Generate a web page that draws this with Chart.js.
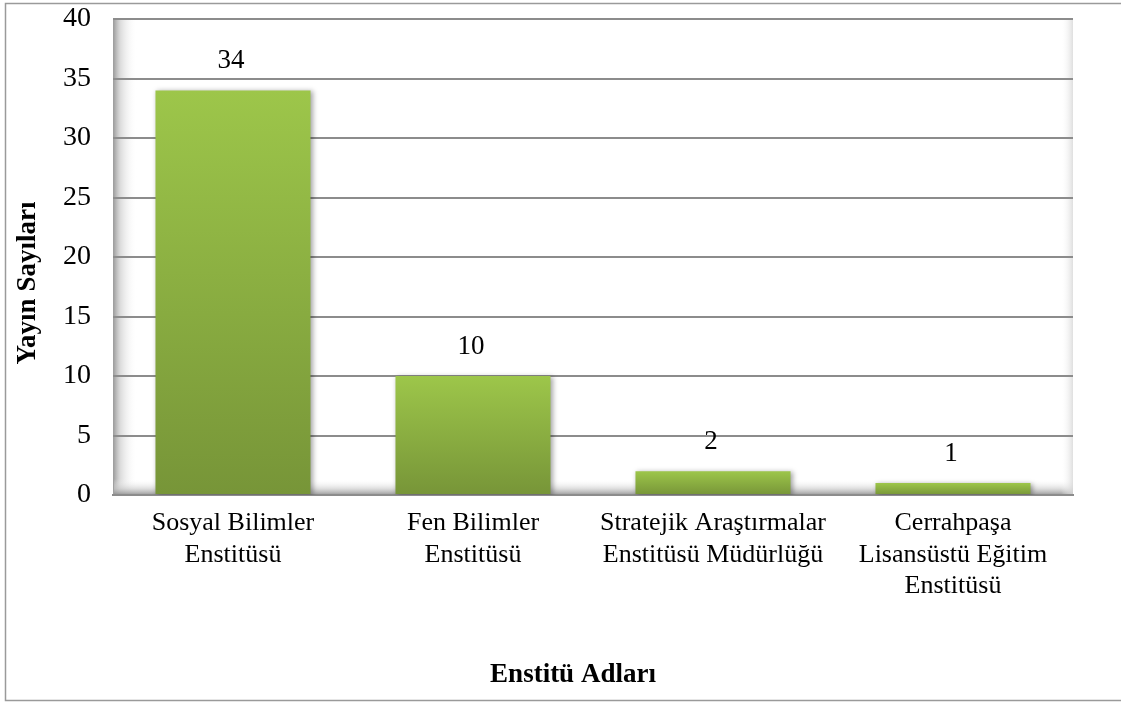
<!DOCTYPE html>
<html>
<head>
<meta charset="utf-8">
<script src="https://cdn.jsdelivr.net/npm/chart.js@4/dist/chart.umd.min.js"></script>
<style>
html,body{margin:0;padding:0;background:#fff;}
#wrap{width:1121px;height:702px;}
</style>
</head>
<body>
<div id="wrap"><canvas id="c" width="1121" height="702"></canvas></div>
<script>
const categories = [
  ["Sosyal Bilimler", "Enstitüsü"],
  ["Fen Bilimler", "Enstitüsü"],
  ["Stratejik Araştırmalar", "Enstitüsü Müdürlüğü"],
  ["Cerrahpaşa", "Lisansüstü Eğitim", "Enstitüsü"]
];
const values = [34, 10, 2, 1];
const yTicks = [0, 5, 10, 15, 20, 25, 30, 35, 40];
const xTitle = "Enstitü Adları";
const yTitle = "Yayın Sayıları";

const FONT = "'Liberation Serif', 'Times New Roman', serif";

function barGradient(c) {
  const ch = c.chart;
  const ys = ch.scales && ch.scales.y;
  if (!ch.chartArea || !ys || c.raw === undefined) return '#8db342';
  const top = ys.getPixelForValue(c.raw);
  const base = ys.getPixelForValue(0);
  const g = ch.ctx.createLinearGradient(0, top, 0, base);
  g.addColorStop(0, '#9dc64a');
  g.addColorStop(1, '#779538');
  return g;
}

const bgPlugin = {
  id: 'bg',
  beforeDraw(chart) {
    const ctx = chart.ctx;
    const a = chart.chartArea;
    ctx.save();
    ctx.fillStyle = '#fff';
    ctx.fillRect(0, 0, chart.width, chart.height);
    ctx.strokeStyle = '#9a9a9a';
    ctx.lineWidth = 1.5;
    ctx.beginPath();
    ctx.moveTo(1130, 3.5); ctx.lineTo(5.5, 3.5); ctx.lineTo(5.5, 700.5); ctx.lineTo(1130, 700.5);
    ctx.stroke();
    let g = ctx.createLinearGradient(a.left, 0, a.left + 24, 0);
    g.addColorStop(0, 'rgba(140,140,140,0.9)');
    g.addColorStop(0.3, 'rgba(195,195,195,0.6)');
    g.addColorStop(1, 'rgba(255,255,255,0)');
    ctx.fillStyle = g;
    ctx.fillRect(a.left, a.top, 24, a.bottom - a.top);
    g = ctx.createLinearGradient(0, a.bottom - 16, 0, a.bottom);
    g.addColorStop(0, 'rgba(255,255,255,0)');
    g.addColorStop(0.6, 'rgba(200,200,200,0.6)');
    g.addColorStop(1, 'rgba(140,140,140,0.9)');
    ctx.fillStyle = g;
    ctx.fillRect(a.left, a.bottom - 16, a.right - a.left, 16);
    g = ctx.createLinearGradient(a.right - 12, 0, a.right, 0);
    g.addColorStop(0, 'rgba(255,255,255,0)');
    g.addColorStop(1, 'rgba(215,215,215,0.8)');
    ctx.fillStyle = g;
    ctx.fillRect(a.right - 12, a.top, 12, a.bottom - a.top);
    ctx.strokeStyle = '#a0a0a0';
    ctx.lineWidth = 1;
    ctx.beginPath();
    ctx.moveTo(a.left + 0.5, a.top); ctx.lineTo(a.left + 0.5, a.bottom);
    ctx.stroke();
    ctx.restore();
  },
  beforeDatasetsDraw(chart) {
    const ctx = chart.ctx;
    ctx.save();
    ctx.shadowColor = 'rgba(0,0,0,0.35)';
    ctx.shadowBlur = 5;
    ctx.shadowOffsetX = 2;
    ctx.shadowOffsetY = 1;
  },
  afterDatasetsDraw(chart) {
    const ctx = chart.ctx;
    ctx.restore();
    const meta = chart.getDatasetMeta(0);
    ctx.save();
    ctx.fillStyle = '#000';
    ctx.font = '27px ' + FONT;
    ctx.textAlign = 'center';
    ctx.textBaseline = 'middle';
    meta.data.forEach((el, i) => {
      ctx.fillText(String(values[i]), el.x - 2, el.y - 29);
    });
    ctx.restore();
  },
  afterDraw(chart) {
    const ctx = chart.ctx;
    ctx.save();
    ctx.fillStyle = '#000';
    ctx.font = 'bold 27px ' + FONT;
    ctx.textAlign = 'center';
    ctx.textBaseline = 'middle';
    ctx.fillText(xTitle, 573, 675);
    ctx.translate(28, 283);
    ctx.rotate(-Math.PI / 2);
    ctx.fillText(yTitle, 0, 0);
    ctx.restore();
  }
};

new Chart(document.getElementById('c'), {
  type: 'bar',
  data: {
    labels: categories,
    datasets: [{
      data: values,
      backgroundColor: barGradient,
      borderWidth: 0,
      categoryPercentage: 1,
      barPercentage: 0.646
    }]
  },
  options: {
    responsive: false,
    animation: false,
    events: [],
    layout: { padding: { left: 0, top: 19, right: 48, bottom: 0 } },
    plugins: { legend: { display: false }, tooltip: { enabled: false } },
    scales: {
      x: {
        afterFit(s) { s.height = 702 - 495; s.paddingLeft = 0; s.paddingRight = 0; },
        grid: { display: false, drawTicks: false },
        border: { display: true, color: '#8c8c8c', width: 2 },
        ticks: {
          color: '#000',
          font: { family: FONT, size: 26, lineHeight: 1.2 },
          maxRotation: 0, minRotation: 0, autoSkip: false,
          padding: 13
        }
      },
      y: {
        min: 0, max: 40,
        afterFit(s) { s.width = 113; s.paddingTop = 0; s.paddingBottom = 0; },
        afterBuildTicks(s) { s.ticks = yTicks.map(v => ({ value: v })); },
        grid: { color: '#8c8c8c', lineWidth: 2, drawTicks: false },
        border: { display: false },
        ticks: {
          color: '#000',
          font: { family: FONT, size: 28 },
          padding: 22
        }
      }
    }
  },
  plugins: [bgPlugin]
});
</script>
</body>
</html>
